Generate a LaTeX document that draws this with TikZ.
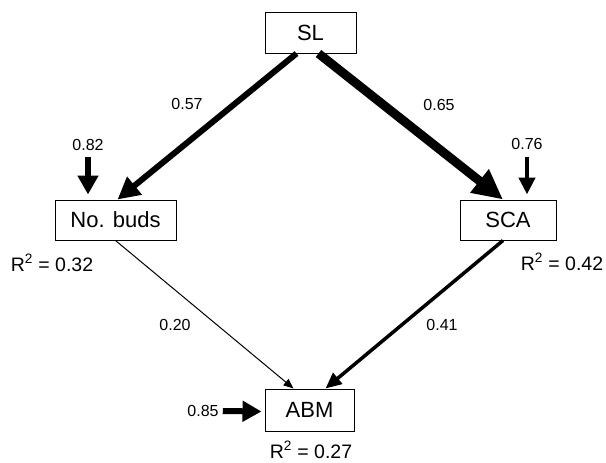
\documentclass[tikz,border=0pt]{standalone}
\usepackage{fontspec}
\setmainfont{Liberation Sans}
\usetikzlibrary{arrows.meta}
\begin{document}
\begin{tikzpicture}[x=1pt,y=-1pt,
  box/.style={draw,line width=1pt,fill=white,inner sep=0pt,font=\fontsize{22}{24}\selectfont},
  coef/.style={inner sep=0pt,font=\fontsize{16}{18}\selectfont},
  rsq/.style={inner sep=0pt,font=\fontsize{19.5}{22}\selectfont},
  pthick/.style={line width=9pt,-{Triangle[length=30pt,width=28pt]}},
  pmid/.style={line width=6pt,-{Triangle[length=22pt,width=22pt]}},
  pthin/.style={line width=1pt,-{Triangle[length=10pt,width=8pt]}},
  psca/.style={line width=3.5pt,-{Triangle[length=16pt,width=14pt]}},
  perr/.style={line width=6pt,-{Triangle[length=19pt,width=20pt]}},
  perrs/.style={line width=4.5pt,-{Triangle[length=17pt,width=16pt]}},
]
\useasboundingbox (0,0) rectangle (606,463);
\node[box,minimum width=91pt,minimum height=41pt] (SL) at (310.5,32.5) {SL};
\node[box,minimum width=121pt,minimum height=40pt] (buds) at (115.5,220) {No. buds};
\node[box,minimum width=96pt,minimum height=40pt] (SCA) at (508,220) {SCA};
\node[box,minimum width=89pt,minimum height=42pt] (ABM) at (309.5,410) {ABM};

\draw[pmid] ([xshift=-14pt]SL.south) -- ([xshift=2pt]buds.north);
\draw[pthick] ([xshift=8pt]SL.south) -- ([xshift=-5pt]SCA.north);
\draw[pthin] (buds.south) -- ([xshift=-16pt]ABM.north);
\draw[psca] ([xshift=-5pt]SCA.south) -- ([xshift=16pt]ABM.north);

\node[coef] (c57) at (187,104) {0.57};
\node[coef] (c65) at (439,105) {0.65};
\node[coef] (c20) at (175,325) {0.20};
\node[coef] (c41) at (442,325) {0.41};

\node[coef] (e82) at (88,145) {0.82};
\node[coef] (e76) at (527,144) {0.76};
\node[coef] (e85) at (203,411) {0.85};
\draw[perr] ([yshift=-6pt]e82.south) -- ([xshift=-27.5pt,yshift=5pt]buds.north);
\draw[perrs] ([yshift=-7pt]e76.south) -- ([xshift=19pt,yshift=5pt]SCA.north);
\draw[perr] ([xshift=4pt]e85.east) -- ([xshift=-3pt,yshift=-1.5pt]ABM.west);

\node[rsq] (r1) at (52,263) {R\textsuperscript{2} = 0.32};
\node[rsq] (r2) at (562,262) {R\textsuperscript{2} = 0.42};
\node[rsq] (r3) at (311,450) {R\textsuperscript{2} = 0.27};
\end{tikzpicture}
\end{document}
